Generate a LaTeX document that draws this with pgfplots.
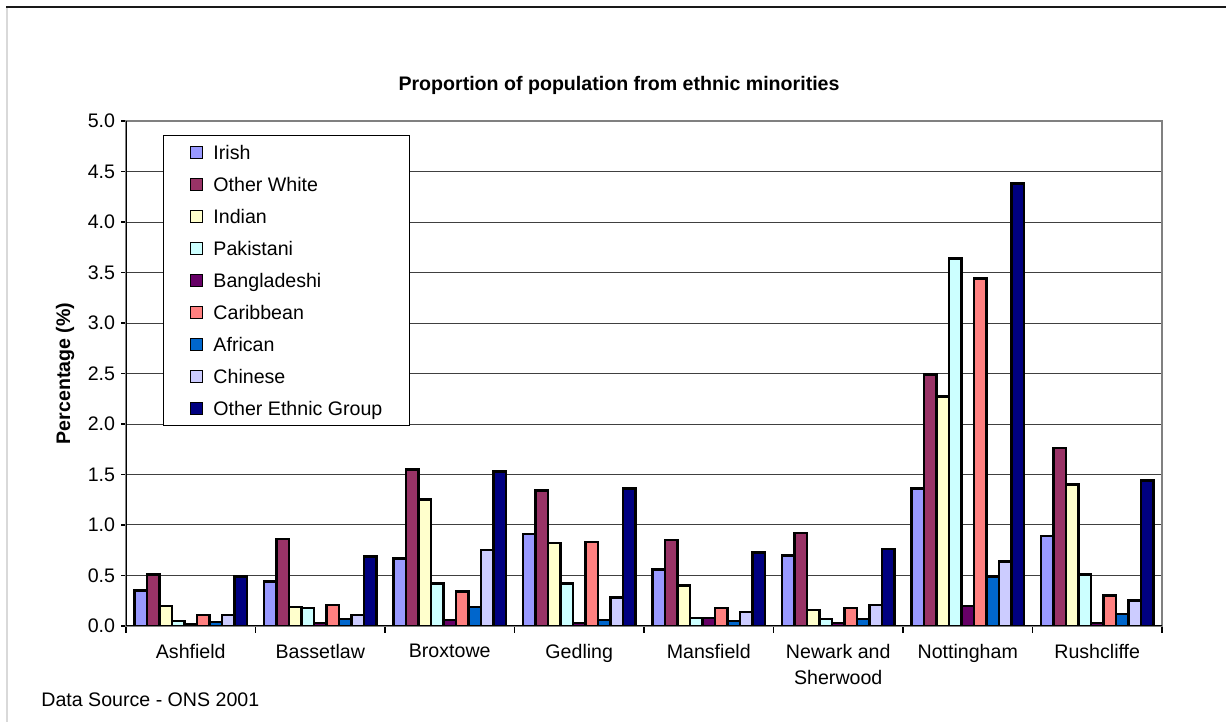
\documentclass[border=0pt]{standalone}
\usepackage{fontspec}
\setmainfont{Liberation Sans}
\usepackage{pgfplots}
\pgfplotsset{compat=1.18}

% Series colours
\definecolor{cIrish}{HTML}{9999FF}
\definecolor{cOtherWhite}{HTML}{993366}
\definecolor{cIndian}{HTML}{FFFFCC}
\definecolor{cPakistani}{HTML}{CCFFFF}
\definecolor{cBangladeshi}{HTML}{660066}
\definecolor{cCaribbean}{HTML}{FF8080}
\definecolor{cAfrican}{HTML}{0066CC}
\definecolor{cChinese}{HTML}{CCCCFF}
\definecolor{cOtherEthnic}{HTML}{000080}

\pgfplotsset{
  barstyle/.style={fill=#1, draw=black, line width=1.25pt,
    legend image code/.code={\draw[##1, line width=0.5pt] (0pt,-3pt) rectangle (6pt,3pt);}},
}

\begin{document}
\fontsize{9.8}{13}\selectfont
\begin{tikzpicture}
\path[use as bounding box] (0,0) rectangle (613pt,361pt);
% page frame
\draw[black!90, line width=1pt] (3pt,357.5pt) -- (613pt,357.5pt);
\draw[black!15, line width=1pt] (3.25pt,0pt) -- (3.25pt,357pt);
\node[anchor=base, font=\bfseries] at (309.5pt,315.5pt) {Proportion of population from ethnic minorities};
\node[anchor=base west, inner sep=0pt] at (20.5pt,7.5pt) {Data Source - ONS 2001};

\begin{axis}[
  at={(63pt,48pt)}, anchor=south west,
  scale only axis, width=518pt, height=252.5pt,
  ybar=0pt, bar width=6.25pt,
  xmin=-0.5, xmax=7.5, ymin=0, ymax=5,
  xtick={0,...,7},
  xticklabels={Ashfield,Bassetlaw,Broxtowe,Gedling,Mansfield,{Newark and\\Sherwood},Nottingham,Rushcliffe},
  xticklabel style={align=center, yshift=-3pt},
  major x tick style={draw=none},
  minor xtick={-0.5,0.5,...,7.5},
  minor x tick style={black, line width=0.8pt},
  ytick={0,0.5,...,5},
  y tick style={black, line width=0.8pt},
  tick pos=left, tick align=outside,
  major tick length=2.5pt, minor tick length=3.5pt,
  /pgf/number format/assume math mode=true,
  yticklabel style={xshift=0.5pt, /pgf/number format/fixed, /pgf/number format/fixed zerofill, /pgf/number format/precision=1},
  ymajorgrids,
  major grid style={black!75, line width=0.5pt},
  axis line style={black!50, line width=1pt},
  ylabel={Percentage (\%)},
  ylabel style={font=\bfseries, at={(axis description cs:-0.0589,0.5)}, anchor=center},
  legend style={at={(axis description cs:0.0357,0.972)}, anchor=north west,
    draw=black, line width=0.5pt, inner xsep=13.5pt, inner ysep=3.5pt,
    row sep=6pt, column sep=5pt,
    nodes={inner sep=0pt, text height=8.5pt, text depth=1.5pt}},
  legend cell align=left,
]
\addplot[barstyle=cIrish]       coordinates {(0,0.35) (1,0.44) (2,0.67) (3,0.91) (4,0.56) (5,0.70) (6,1.36) (7,0.89)};
\addplot[barstyle=cOtherWhite]  coordinates {(0,0.51) (1,0.86) (2,1.55) (3,1.34) (4,0.85) (5,0.92) (6,2.49) (7,1.76)};
\addplot[barstyle=cIndian]      coordinates {(0,0.20) (1,0.19) (2,1.25) (3,0.82) (4,0.40) (5,0.16) (6,2.27) (7,1.40)};
\addplot[barstyle=cPakistani]   coordinates {(0,0.05) (1,0.18) (2,0.42) (3,0.42) (4,0.08) (5,0.07) (6,3.64) (7,0.51)};
\addplot[barstyle=cBangladeshi] coordinates {(0,0.02) (1,0.03) (2,0.06) (3,0.03) (4,0.08) (5,0.03) (6,0.20) (7,0.03)};
\addplot[barstyle=cCaribbean]   coordinates {(0,0.11) (1,0.21) (2,0.34) (3,0.83) (4,0.18) (5,0.18) (6,3.44) (7,0.30)};
\addplot[barstyle=cAfrican]     coordinates {(0,0.04) (1,0.07) (2,0.19) (3,0.06) (4,0.05) (5,0.07) (6,0.49) (7,0.12)};
\addplot[barstyle=cChinese]     coordinates {(0,0.11) (1,0.11) (2,0.75) (3,0.28) (4,0.14) (5,0.21) (6,0.64) (7,0.25)};
\addplot[barstyle=cOtherEthnic] coordinates {(0,0.49) (1,0.69) (2,1.53) (3,1.36) (4,0.73) (5,0.76) (6,4.38) (7,1.44)};
\legend{Irish, Other White, Indian, Pakistani, Bangladeshi, Caribbean, African, Chinese, Other Ethnic Group}
% axis lines on the left and bottom
\draw[black, line width=1pt] (rel axis cs:0,1) -- (rel axis cs:0,0) -- (rel axis cs:1,0);
\end{axis}
\end{tikzpicture}
\end{document}
